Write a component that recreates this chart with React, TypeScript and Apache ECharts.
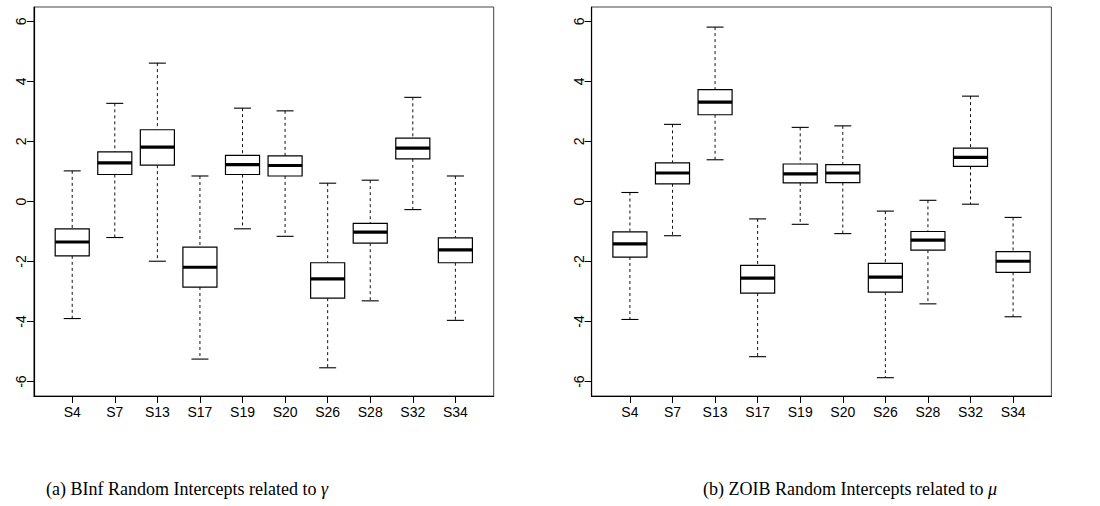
import React, { useEffect, useRef } from "react";
import * as echarts from "echarts";

const categories = ["S4", "S7", "S13", "S17", "S19", "S20", "S26", "S28", "S32", "S34"];
const yTicks = [-6, -4, -2, 0, 2, 4, 6];
const xTicks = [1, 2, 3, 4, 5, 6, 7, 8, 9, 10];

// (a) BInf random intercepts related to gamma
const binfLower = [-3.9, -1.2, -1.99, -5.25, -0.91, -1.16, -5.54, -3.31, -0.27, -3.96];
const binfQ1 = [-1.81, 0.9, 1.21, -2.85, 0.9, 0.85, -3.22, -1.39, 1.42, -2.04];
const binfMedian = [-1.35, 1.29, 1.81, -2.19, 1.23, 1.2, -2.58, -1.02, 1.78, -1.61];
const binfQ3 = [-0.91, 1.65, 2.39, -1.52, 1.54, 1.52, -2.04, -0.73, 2.11, -1.21];
const binfUpper = [1.02, 3.27, 4.61, 0.85, 3.11, 3.02, 0.61, 0.71, 3.47, 0.85];

// (b) ZOIB random intercepts related to mu
const zoibLower = [-3.93, -1.14, 1.39, -5.17, -0.76, -1.07, -5.87, -3.41, -0.09, -3.84];
const zoibQ1 = [-1.85, 0.59, 2.89, -3.05, 0.62, 0.63, -3.02, -1.62, 1.17, -2.36];
const zoibMedian = [-1.41, 0.95, 3.31, -2.55, 0.92, 0.95, -2.52, -1.29, 1.47, -1.99];
const zoibQ3 = [-1.01, 1.29, 3.73, -2.13, 1.25, 1.23, -2.06, -1.0, 1.78, -1.67];
const zoibUpper = [0.3, 2.57, 5.81, -0.58, 2.47, 2.52, -0.32, 0.04, 3.51, -0.53];

const captionA = "(a) BInf Random Intercepts related to ";
const captionB = "(b) ZOIB Random Intercepts related to ";

const SANS = "'Liberation Sans', Arial, Helvetica, sans-serif";
const SERIF = "'Liberation Serif', 'DejaVu Serif', serif";

function buildData(lo: number[], q1: number[], med: number[], q3: number[], hi: number[]) {
  return categories.map((_, i) => [i + 1, lo[i], q1[i], med[i], q3[i], hi[i]]);
}

const renderBox = (_params: any, api: any) => {
  const x = api.value(0);
  const pLo = api.coord([x, api.value(1)]);
  const pQ1 = api.coord([x, api.value(2)]);
  const pMed = api.coord([x, api.value(3)]);
  const pQ3 = api.coord([x, api.value(4)]);
  const pHi = api.coord([x, api.value(5)]);
  const bw = api.size([0.8, 0])[0];
  const cw = bw * 0.5;
  const cx = pMed[0];
  const dash = { stroke: "#111", lineWidth: 1, lineDash: [3, 3] };
  const solid = { stroke: "#000", lineWidth: 1.1 };
  return {
    type: "group",
    children: [
      { type: "line", shape: { x1: cx, y1: pHi[1], x2: cx, y2: pQ3[1] }, style: dash },
      { type: "line", shape: { x1: cx, y1: pQ1[1], x2: cx, y2: pLo[1] }, style: dash },
      { type: "line", shape: { x1: cx - cw / 2, y1: pHi[1], x2: cx + cw / 2, y2: pHi[1] }, style: solid },
      { type: "line", shape: { x1: cx - cw / 2, y1: pLo[1], x2: cx + cw / 2, y2: pLo[1] }, style: solid },
      {
        type: "rect",
        shape: { x: cx - bw / 2, y: pQ3[1], width: bw, height: pQ1[1] - pQ3[1] },
        style: { fill: "#fff", stroke: "#000", lineWidth: 1.2 },
      },
      { type: "line", shape: { x1: cx - bw / 2, y1: pMed[1], x2: cx + bw / 2, y2: pMed[1] }, style: { stroke: "#000", lineWidth: 3.2 } },
    ],
  };
};

function xAxisFor(gridIndex: number) {
  return {
    type: "value",
    gridIndex,
    min: 0.1,
    max: 10.9,
    axisLine: { show: true, onZero: false, lineStyle: { color: "#000", width: 1.2 } },
    splitLine: { show: false },
    axisTick: { show: true, inside: false, length: 7, customValues: xTicks, lineStyle: { color: "#000", width: 1 } },
    axisLabel: {
      customValues: xTicks,
      formatter: (v: number) => categories[Math.round(v) - 1] ?? "",
      fontSize: 14,
      fontFamily: SANS,
      color: "#000",
      margin: 9,
    },
  };
}

function yAxisFor(gridIndex: number) {
  return {
    type: "value",
    gridIndex,
    min: -6.48,
    max: 6.48,
    axisLine: { show: true, onZero: false, lineStyle: { color: "#000", width: 1.2 } },
    splitLine: { show: false },
    axisTick: { show: true, inside: false, length: 7, customValues: yTicks, lineStyle: { color: "#000", width: 1 } },
    axisLabel: {
      customValues: yTicks,
      rotate: 90,
      fontSize: 14,
      fontFamily: SANS,
      color: "#000",
      margin: 6,
    },
  };
}

export default function App() {
  const ref = useRef<HTMLDivElement>(null);
  useEffect(() => {
    document.body.style.margin = "0";
    if (!ref.current) return;
    const chart = echarts.init(ref.current, undefined, { renderer: "svg" });
    const gridStyle = { show: true, borderColor: "#444", borderWidth: 1, backgroundColor: "transparent", containLabel: false };
    const captionRich = {
      n: { fontFamily: SERIF, fontSize: 18, fill: "#000" },
      i: { fontFamily: SERIF, fontSize: 18, fontStyle: "italic", fill: "#000" },
    };
    chart.setOption({
      animation: false,
      backgroundColor: "#fff",
      grid: [
        { ...gridStyle, left: 33.9, top: 7, width: 459.8, height: 389 },
        { ...gridStyle, left: 591.6, top: 7, width: 459.8, height: 389 },
      ],
      xAxis: [xAxisFor(0), xAxisFor(1)],
      yAxis: [yAxisFor(0), yAxisFor(1)],
      series: [
        {
          type: "custom",
          xAxisIndex: 0,
          yAxisIndex: 0,
          renderItem: renderBox,
          encode: { x: 0, y: [1, 2, 3, 4, 5] },
          clip: false,
          data: buildData(binfLower, binfQ1, binfMedian, binfQ3, binfUpper),
        },
        {
          type: "custom",
          xAxisIndex: 1,
          yAxisIndex: 1,
          renderItem: renderBox,
          encode: { x: 0, y: [1, 2, 3, 4, 5] },
          clip: false,
          data: buildData(zoibLower, zoibQ1, zoibMedian, zoibQ3, zoibUpper),
        },
      ],
      graphic: [
        {
          type: "text",
          x: 46,
          y: 489,
          style: { text: "{n|" + captionA + "}{i|γ}", verticalAlign: "middle", rich: captionRich },
        },
        {
          type: "text",
          x: 703,
          y: 489,
          style: { text: "{n|" + captionB + "}{i|μ}", verticalAlign: "middle", rich: captionRich },
        },
      ],
    });
    return () => chart.dispose();
  }, []);
  return <div ref={ref} style={{ width: 1100, height: 506 }} />;
}
